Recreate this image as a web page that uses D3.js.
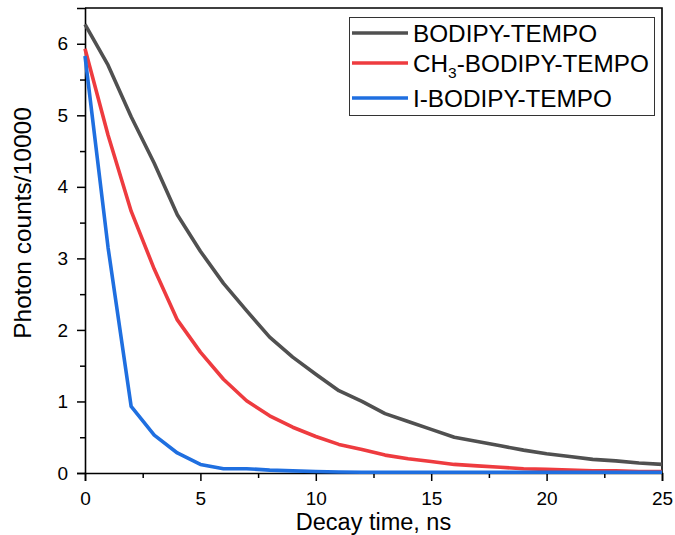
<!DOCTYPE html>
<html>
<head>
<meta charset="utf-8">
<script src="https://cdn.jsdelivr.net/npm/d3@7"></script>
<style>
  body { margin: 0; background: #fff; }
  text { font-family: Arial, "Liberation Sans", sans-serif; fill: #000; }
</style>
</head>
<body>
<div id="chart"></div>
<script>
// Decay curves, photon counts / 10000 read at each ns
var times = d3.range(0, 26);

var bodipy = [6.27, 5.70, 4.98, 4.33, 3.61, 3.10, 2.65, 2.27, 1.90, 1.62,
              1.38, 1.15, 1.00, 0.83, 0.72, 0.61, 0.50, 0.44, 0.38, 0.32,
              0.27, 0.23, 0.19, 0.17, 0.14, 0.12];
var ch3Bodipy = [5.93, 4.72, 3.66, 2.85, 2.14, 1.69, 1.31, 1.01, 0.80, 0.64,
                 0.51, 0.40, 0.33, 0.25, 0.20, 0.16, 0.12, 0.10, 0.08, 0.06,
                 0.05, 0.04, 0.03, 0.03, 0.02, 0.02];
var iBodipy = [5.83, 3.15, 0.93, 0.53, 0.28, 0.12, 0.06, 0.06, 0.04, 0.03,
               0.02, 0.015, 0.01, 0.01, 0.01, 0.01, 0.01, 0.01, 0.01, 0.01,
               0.01, 0.01, 0.01, 0.01, 0.01, 0.01];

var seriesNames = ["BODIPY-TEMPO", "CH3-BODIPY-TEMPO", "I-BODIPY-TEMPO"];
var seriesColors = ["#505050", "#ee3b3f", "#1f6fe0"];
var xTicks = [0, 5, 10, 15, 20, 25];
var yTicks = [0, 1, 2, 3, 4, 5, 6];

var width = 675,
    height = 535,
    margin = {top: 8, right: 13, bottom: 62, left: 85};

var svg = d3.select("#chart").append("svg")
    .attr("width", width)
    .attr("height", height);

var x = d3.scaleLinear()
    .domain([0, 25])
    .range([margin.left, width - margin.right]);

var y = d3.scaleLinear()
    .domain([0, 6.5])
    .range([height - margin.bottom, margin.top]);

// frame (top and right sides)
svg.append("path")
    .attr("d", "M" + x(0) + "," + y(6.5) + "H" + x(25) + "V" + y(0))
    .attr("fill", "none")
    .attr("stroke", "#000")
    .attr("stroke-width", 1.6);

// axes: minor ticks first, then major with labels
var xMinor = svg.append("g")
    .attr("transform", "translate(0," + y(0) + ")")
    .call(d3.axisBottom(x).tickValues(d3.range(2.5, 25, 5)).tickSize(5).tickFormat(""));
var xAxis = svg.append("g")
    .attr("transform", "translate(0," + y(0) + ")")
    .call(d3.axisBottom(x).tickValues(xTicks).tickSize(8).tickPadding(11).tickFormat(d3.format("d")));

var yMinor = svg.append("g")
    .attr("transform", "translate(" + x(0) + ",0)")
    .call(d3.axisLeft(y).tickValues(d3.range(0.5, 6.5, 1)).tickSize(5).tickFormat(""));
var yAxis = svg.append("g")
    .attr("transform", "translate(" + x(0) + ",0)")
    .call(d3.axisLeft(y).tickValues(yTicks).tickSize(8).tickPadding(9).tickFormat(d3.format("d")));

[xMinor, xAxis, yMinor, yAxis].forEach(function(a) {
  a.select(".domain").attr("stroke-width", 1.6);
  a.selectAll(".tick line").attr("stroke-width", 1.5);
  a.selectAll("text").style("font-size", "19px");
});
[xMinor, yMinor].forEach(function(a) { a.select(".domain").remove(); });

// axis titles
svg.append("text")
    .attr("x", (x(0) + x(25)) / 2)
    .attr("y", 530)
    .attr("text-anchor", "middle")
    .style("font-size", "23.5px")
    .text("Decay time, ns");

svg.append("text")
    .attr("transform", "translate(31,223) rotate(-90)")
    .attr("text-anchor", "middle")
    .style("font-size", "24.5px")
    .text("Photon counts/10000");

// curves
var allSeries = [bodipy, ch3Bodipy, iBodipy];
var line = d3.line()
    .x(function(d, i) { return x(times[i]); })
    .y(function(d) { return y(d); });

svg.selectAll("path.curve")
    .data(allSeries)
  .enter().append("path")
    .attr("class", "curve")
    .attr("d", line)
    .attr("fill", "none")
    .attr("stroke", function(d, i) { return seriesColors[i]; })
    .attr("stroke-width", 3.6)
    .attr("stroke-linejoin", "round");

// legend
var legendRows = [33, 63, 98];
svg.append("rect")
    .attr("x", 349.5).attr("y", 17.5)
    .attr("width", 305).attr("height", 98)
    .attr("fill", "#fff")
    .attr("stroke", "#333")
    .attr("stroke-width", 1);

var legend = svg.selectAll("g.legend")
    .data(seriesNames)
  .enter().append("g")
    .attr("class", "legend")
    .attr("transform", function(d, i) { return "translate(0," + legendRows[i] + ")"; });

legend.append("line")
    .attr("x1", 352).attr("x2", 408)
    .attr("stroke", function(d, i) { return seriesColors[i]; })
    .attr("stroke-width", 3.6);

legend.append("text")
    .attr("x", 413)
    .attr("y", 9)
    .style("font-size", "24.3px")
    .each(function(d) {
      var t = d3.select(this);
      if (d.indexOf("CH3") === 0) {
        t.append("tspan").text("CH");
        t.append("tspan").attr("dy", 6).style("font-size", "15.5px").text("3");
        t.append("tspan").attr("dy", -6).text(d.slice(3));
      } else {
        t.text(d);
      }
    });
</script>
</body>
</html>
